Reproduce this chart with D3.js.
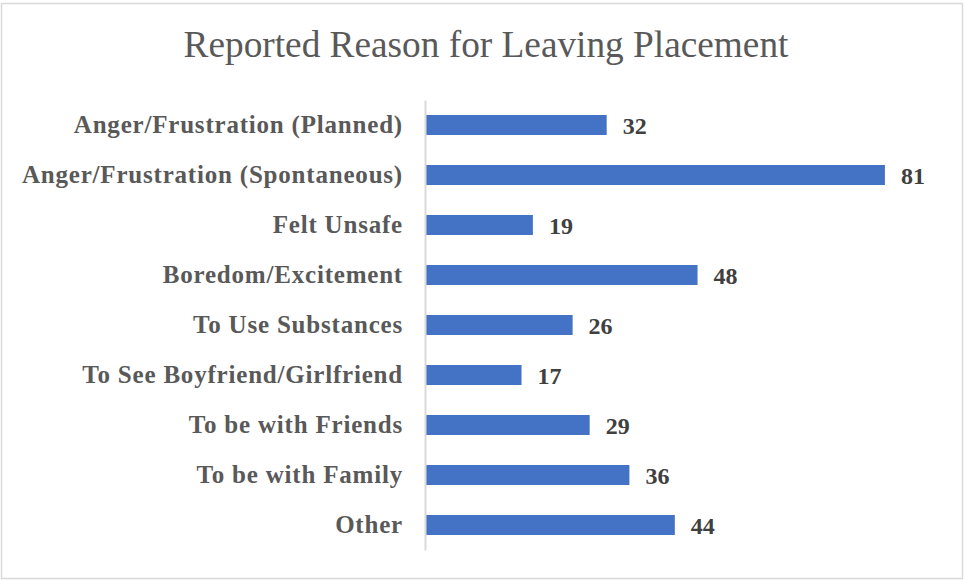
<!DOCTYPE html>
<meta charset="UTF-8">
<style>
    body { margin: 0; background: #fff; }
    .label { font: bold 25px "Liberation Serif", "Times New Roman", serif; fill: #595959; letter-spacing: 0.8px; }
    .value { font: bold 24px "Liberation Serif", "Times New Roman", serif; fill: #404040; }
    .title { font: 37.3px "Liberation Serif", "Times New Roman", serif; fill: #595959; }
</style>
<body>
<div id="chart"></div>
<script src="https://d3js.org/d3.v7.min.js"></script>
<script>
    // categories, top to bottom
    var reasons = [
        "Anger/Frustration (Planned)",
        "Anger/Frustration (Spontaneous)",
        "Felt Unsafe",
        "Boredom/Excitement",
        "To Use Substances",
        "To See Boyfriend/Girlfriend",
        "To be with Friends",
        "To be with Family",
        "Other"
    ];
    var counts = [32, 81, 19, 48, 26, 17, 29, 36, 44];

    var width = 964, height = 580;

    var svg = d3.select("#chart").append("svg")
            .attr("width", width)
            .attr("height", height);

    // outer frame
    svg.append("rect")
            .attr("x", 1.5).attr("y", 3.5)
            .attr("width", width - 3).attr("height", height - 5)
            .attr("fill", "#fff")
            .attr("stroke", "#d9d9d9")
            .attr("stroke-width", 1.5);

    var x = d3.scaleLinear().domain([0, 90]).range([425, 936]);
    var y = d3.scaleBand().domain(reasons).range([100, 550])
            .paddingInner(0.6).paddingOuter(0.3);

    svg.append("text")
            .attr("class", "title")
            .attr("x", 486).attr("y", 57)
            .attr("text-anchor", "middle")
            .text("Reported Reason for Leaving Placement");

    // bars
    svg.selectAll("rect.bar")
            .data(counts)
            .enter().append("rect")
            .attr("class", "bar")
            .attr("x", x(0))
            .attr("y", function (d, i) { return y(reasons[i]); })
            .attr("width", function (d) { return x(d) - x(0); })
            .attr("height", y.bandwidth())
            .attr("fill", "#4472c4");

    // category axis
    var axis = svg.append("g")
            .attr("transform", "translate(" + x(0) + ",0)")
            .call(d3.axisLeft(y).tickSize(0).tickPadding(22));
    axis.select(".domain")
            .attr("stroke", "#d9d9d9")
            .attr("stroke-width", 2);
    axis.selectAll(".tick text")
            .attr("class", "label")
            .attr("fill", null)
            .attr("dy", "0.33em");
    axis.attr("font-size", null).attr("font-family", null);

    // value labels
    svg.selectAll("text.value")
            .data(counts)
            .enter().append("text")
            .attr("class", "value")
            .attr("x", function (d) { return x(d) + 16; })
            .attr("y", function (d, i) { return y(reasons[i]) + y.bandwidth() / 2; })
            .attr("dy", "0.38em")
            .text(function (d) { return d; });
</script>
</body>
